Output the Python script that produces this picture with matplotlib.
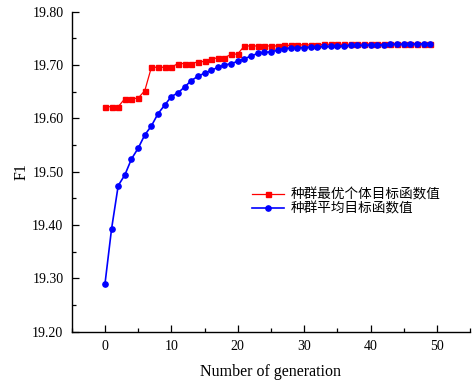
import matplotlib
matplotlib.use("Agg")
import matplotlib.pyplot as plt
from matplotlib.ticker import MultipleLocator, FormatStrFormatter

generations = list(range(50))
best_values = [19.622, 19.622, 19.622, 19.637, 19.637, 19.638, 19.652, 19.696, 19.696, 19.696,
               19.696, 19.703, 19.703, 19.703, 19.706, 19.707, 19.711, 19.714, 19.714, 19.720,
               19.721, 19.736, 19.736, 19.736, 19.736, 19.736, 19.736, 19.737, 19.737, 19.738,
               19.738, 19.738, 19.738, 19.739, 19.739, 19.739, 19.739, 19.739, 19.739, 19.740,
               19.740, 19.740, 19.740, 19.740, 19.740, 19.740, 19.740, 19.740, 19.740, 19.740]
avg_values = [19.289, 19.393, 19.474, 19.494, 19.524, 19.544, 19.569, 19.586, 19.609, 19.625,
              19.641, 19.648, 19.659, 19.671, 19.679, 19.685, 19.690, 19.696, 19.700, 19.703,
              19.707, 19.712, 19.717, 19.722, 19.724, 19.725, 19.728, 19.731, 19.732, 19.733,
              19.733, 19.734, 19.734, 19.735, 19.735, 19.736, 19.736, 19.737, 19.737, 19.737,
              19.738, 19.738, 19.738, 19.739, 19.739, 19.739, 19.739, 19.740, 19.740, 19.740]
labels = ["种群最优个体目标函数值", "种群平均目标函数值"]

serif = ["Liberation Serif", "DejaVu Serif"]
cjk = ["Noto Sans CJK SC", "DejaVu Sans"]

fig = plt.figure(figsize=(4.72, 3.82), dpi=100)
ax = fig.add_axes([0.152, 0.132, 0.844, 0.837])

ax.plot(generations, best_values, color="#ff0000", marker="s", markersize=3.6,
        linewidth=0.9, label=labels[0])
ax.plot(generations, avg_values, color="#0000ff", marker="o", markersize=3.8,
        linewidth=1.2, label=labels[1])

ax.set_xlim(-5, 55)
ax.set_ylim(19.20, 19.80)
ax.xaxis.set_major_locator(MultipleLocator(10))
ax.xaxis.set_minor_locator(MultipleLocator(5))
ax.yaxis.set_major_locator(MultipleLocator(0.1))
ax.yaxis.set_minor_locator(MultipleLocator(0.05))
ax.yaxis.set_major_formatter(FormatStrFormatter("%.2f"))

ax.spines["top"].set_visible(False)
ax.spines["right"].set_visible(False)
for s in ["left", "bottom"]:
    ax.spines[s].set_linewidth(1.0)
ax.tick_params(which="both", direction="in", width=0.9)
ax.tick_params(which="major", length=5, labelsize=10, pad=6)
ax.tick_params(which="minor", length=3)
for lab in ax.get_xticklabels() + ax.get_yticklabels():
    lab.set_family(serif)

ax.set_xlabel("Number of generation", family=serif, fontsize=11.5, labelpad=8)
ax.set_ylabel("F1", family=serif, fontsize=11.5, labelpad=2)

leg = ax.legend(loc="upper left", bbox_to_anchor=(0.44, 0.467), frameon=False,
                prop={"family": cjk, "size": 9.8}, handlelength=2.3,
                handletextpad=0.5, labelspacing=0.0, borderaxespad=0)

fig.savefig("out.png", dpi=100)
